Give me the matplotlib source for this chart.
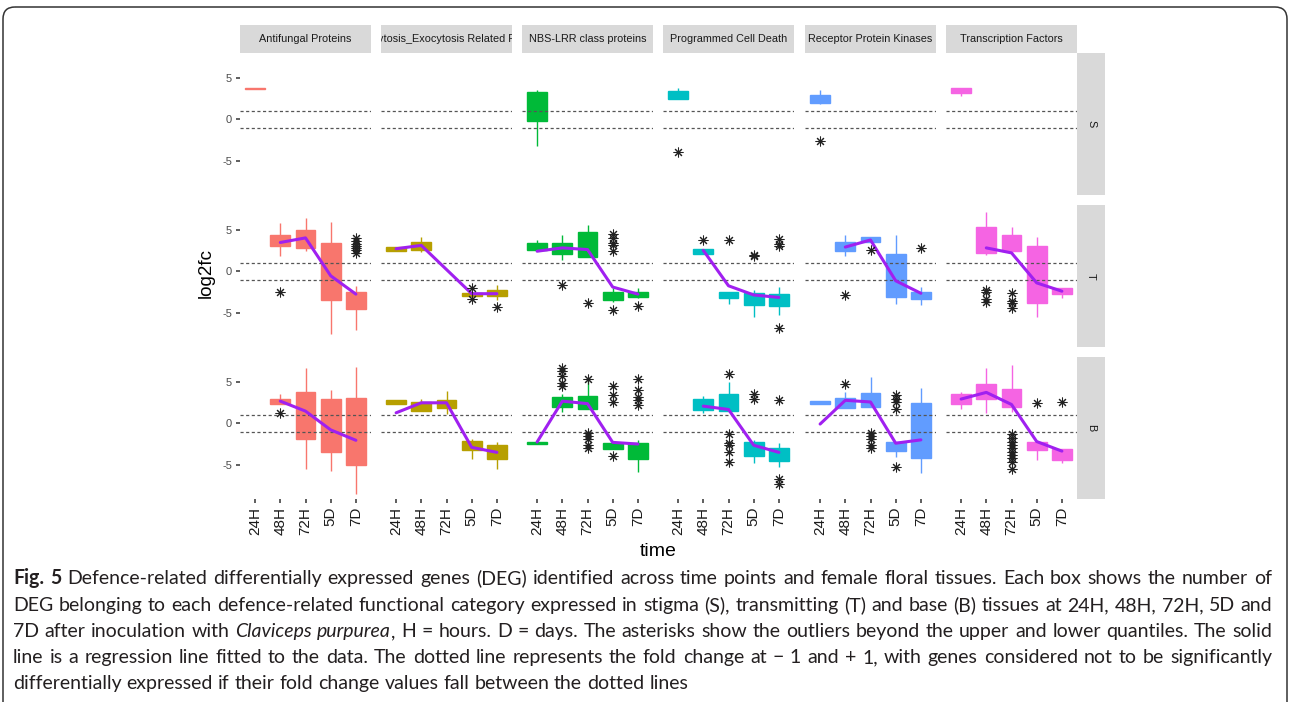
import matplotlib
matplotlib.use("Agg")
import matplotlib.pyplot as plt
from matplotlib.patches import FancyBboxPatch

# ---------------- data ----------------
TIMES = ["24H", "48H", "72H", "5D", "7D"]
CAT_KEYS = ["AFP", "EER", "NBS", "PCD", "RPK", "TF"]
# strip labels as visible in the figure (the second one is cut off by its strip)
CATEGORIES = ["Antifungal Proteins", "ytosis_Exocytosis Related P",
              "NBS-LRR class proteins", "Programmed Cell Death",
              "Receptor Protein Kinases", "Transcription Factors"]
TISSUES = ["S", "T", "B"]
COLORS = ["#F8766D", "#B79F00", "#00BA38", "#00BFC4", "#619CFF", "#F564E3"]

# (category, time, lower whisker, Q1, Q3, upper whisker, outliers)
BOXES_S = [
    ("AFP", "24H", 3.6, 3.6, 3.8, 3.8, []),
    ("NBS", "24H", -3.2, -0.2, 3.3, 3.45, []),
    ("PCD", "24H", 2.4, 2.4, 3.4, 3.7, [-3.96]),
    ("RPK", "24H", 1.85, 2.0, 2.9, 3.45, [-2.56]),
    ("TF", "24H", 2.8, 3.1, 3.7, 3.7, []),
]
BOXES_T = [
    ("AFP", "48H", 1.8, 3.0, 4.3, 5.8, [-2.46]),
    ("AFP", "72H", 2.4, 2.8, 5.0, 6.4, []),
    ("AFP", "5D", -7.5, -3.5, 3.4, 5.9, []),
    ("AFP", "7D", -7.1, -4.55, -2.55, -1.8, [2.2, 2.5, 2.8, 3.0, 3.3, 3.6, 4.0]),
    ("EER", "24H", 2.45, 2.45, 2.85, 2.85, []),
    ("EER", "48H", 2.3, 2.5, 3.5, 4.1, []),
    ("EER", "5D", -2.95, -2.95, -2.65, -2.65, [-2.0, -3.35]),
    ("EER", "7D", -3.5, -3.0, -2.3, -1.7, [-4.3]),
    ("NBS", "24H", 2.5, 2.6, 3.4, 3.8, []),
    ("NBS", "48H", 1.3, 2.05, 3.4, 4.4, [-1.6]),
    ("NBS", "72H", 1.75, 1.75, 4.75, 5.55, [-3.8]),
    ("NBS", "5D", -3.7, -3.45, -2.45, -2.0, [2.4, 3.1, 3.4, 4.0, 4.45, -4.65]),
    ("NBS", "7D", -3.2, -3.15, -2.45, -2.05, [-4.2]),
    ("PCD", "48H", 2.05, 2.05, 2.7, 2.7, [3.8]),
    ("PCD", "72H", -3.95, -3.25, -2.45, -2.45, [3.7]),
    ("PCD", "5D", -5.45, -4.05, -2.65, -2.25, [1.8, 1.95]),
    ("PCD", "7D", -5.25, -4.2, -2.75, -1.85, [3.0, 3.3, 3.9, -6.8]),
    ("RPK", "48H", 1.8, 2.4, 3.5, 4.4, [-2.85]),
    ("RPK", "72H", 3.55, 3.55, 4.15, 4.15, [2.5]),
    ("RPK", "5D", -3.95, -3.15, 2.1, 4.4, []),
    ("RPK", "7D", -4.05, -3.3, -2.5, -1.85, [2.8]),
    ("TF", "48H", 1.9, 2.2, 5.3, 7.15, [-2.25, -2.45, -3.35, -3.65]),
    ("TF", "72H", 2.2, 2.4, 4.4, 5.35, [-2.6, -3.55, -3.85, -4.45]),
    ("TF", "5D", -5.55, -3.85, 3.0, 4.1, []),
    ("TF", "7D", -3.25, -2.7, -2.0, -2.0, []),
]
BOXES_B = [
    ("AFP", "48H", 2.35, 2.35, 2.85, 3.45, [1.25]),
    ("AFP", "72H", -5.55, -1.95, 3.7, 6.65, []),
    ("AFP", "5D", -5.7, -3.5, 2.9, 4.0, []),
    ("AFP", "7D", -8.55, -5.05, 3.0, 6.8, []),
    ("EER", "24H", 2.35, 2.35, 2.75, 2.75, []),
    ("EER", "48H", 1.45, 1.45, 2.6, 2.95, []),
    ("EER", "72H", 1.1, 1.85, 2.75, 3.9, []),
    ("EER", "5D", -4.25, -3.2, -2.1, -1.95, []),
    ("EER", "7D", -5.45, -4.25, -2.65, -2.2, []),
    ("NBS", "24H", -2.5, -2.5, -2.2, -2.2, []),
    ("NBS", "48H", 1.3, 1.95, 3.15, 3.45, [4.5, 4.8, 5.65, 6.25, 6.65]),
    ("NBS", "72H", 1.7, 1.7, 3.25, 5.3, [5.35, -1.15, -1.55, -1.95, -2.6, -3.0]),
    ("NBS", "5D", -3.1, -3.1, -2.4, -2.4, [2.55, 3.35, 4.5, -3.9]),
    ("NBS", "7D", -5.9, -4.25, -2.4, -2.0, [2.15, 2.75, 3.15, 4.0, 5.3]),
    ("PCD", "48H", 1.2, 1.6, 2.85, 3.25, []),
    ("PCD", "72H", 1.45, 1.45, 3.45, 4.95, [5.95, -1.35, -2.4, -2.6, -3.4, -4.65]),
    ("PCD", "5D", -4.75, -3.9, -2.25, -2.0, [2.95, 3.55]),
    ("PCD", "7D", -5.25, -4.55, -3.0, -2.4, [2.75, -6.7, -7.3]),
    ("RPK", "24H", 2.25, 2.25, 2.65, 2.65, []),
    ("RPK", "48H", 1.8, 1.8, 3.05, 3.7, [4.7]),
    ("RPK", "72H", 1.95, 1.95, 3.65, 5.55, [-1.15, -1.55, -1.95, -2.6, -3.0]),
    ("RPK", "5D", -4.05, -3.3, -2.2, -2.2, [1.75, 2.55, 2.95, 3.35, -5.25]),
    ("RPK", "7D", -5.95, -4.15, 2.45, 4.2, []),
    ("TF", "24H", 1.75, 2.35, 3.45, 3.8, []),
    ("TF", "48H", 1.2, 2.95, 4.7, 6.65, []),
    ("TF", "72H", 1.4, 1.95, 4.05, 6.95,
     [-1.35, -1.8, -2.2, -2.6, -3.0, -3.4, -3.8, -4.2, -4.65, -5.45]),
    ("TF", "5D", -4.45, -3.25, -2.2, -2.2, [2.45]),
    ("TF", "7D", -4.75, -4.45, -3.15, -3.15, [2.55]),
]

# fitted line values per time point (None = no data)
LINE_S = {}
LINE_T = {
    "AFP": [None, 3.45, 4.0, -0.55, -2.75],
    "EER": [2.7, 3.1, None, -2.7, -2.7],
    "NBS": [2.4, 2.8, 2.6, -1.9, -2.75],
    "PCD": [None, 2.5, -1.75, -2.85, -3.15],
    "RPK": [None, 2.9, 3.75, -1.15, -2.65],
    "TF": [None, 2.8, 2.2, -1.4, -2.4],
}
LINE_B = {
    "AFP": [None, 2.65, 1.45, -0.8, -2.05],
    "EER": [1.25, 2.45, 2.45, -2.9, -3.5],
    "NBS": [-2.25, 2.65, 2.35, -2.3, -2.5],
    "PCD": [None, 2.05, 1.65, -2.65, -3.5],
    "RPK": [-0.1, 2.75, 2.55, -2.4, -2.0],
    "TF": [2.9, 3.7, 2.25, -2.2, -3.35],
}
BOXES = {"S": BOXES_S, "T": BOXES_T, "B": BOXES_B}
LINES = {"S": LINE_S, "T": LINE_T, "B": LINE_B}

CAPTION = [
    [[("Fig.", "b")], [("5", "b")]] + [[(w, "n")] for w in
        "Defence-related differentially expressed genes (DEG) identified across time points and female floral tissues. Each box shows the number of".split()],
    [[(w, "n")] for w in
        "DEG belonging to each defence-related functional category expressed in stigma (S), transmitting (T) and base (B) tissues at 24H, 48H, 72H, 5D and".split()],
    [[(w, "n")] for w in "7D after inoculation with".split()]
    + [[("Claviceps", "i")], [("purpurea", "i"), (",", "n")]]
    + [[(w, "n")] for w in
        "H = hours. D = days. The asterisks show the outliers beyond the upper and lower quantiles. The solid".split()],
    [[(w, "n")] for w in
        "line is a regression line fitted to the data. The dotted line represents the fold change at \u2212 1 and + 1, with genes considered not to be significantly".split()],
    [[(w, "n")] for w in
        "differentially expressed if their fold change values fall between the dotted lines".split()],
]

# ---------------- layout ----------------
W, H = 1290, 702
fig = plt.figure(figsize=(W / 100, H / 100), dpi=100)
FONT = ["Liberation Sans", "DejaVu Sans"]
CAP_FONT = ["Lato", "DejaVu Sans"]


def add_ax(x0, y0, x1, y1):
    return fig.add_axes([x0 / W, 1 - y1 / H, (x1 - x0) / W, (y1 - y0) / H])


COL_LEFT = [240, 381, 522, 663, 805, 946]
PW = 131
ROW_TOP = [53, 205, 357]
PH = 142
YLIM = (-9.1, 7.95)

bg = fig.add_axes([0, 0, 1, 1], zorder=-5)
bg.set_xlim(0, W)
bg.set_ylim(H, 0)
bg.axis("off")
bg.add_patch(FancyBboxPatch((3, 7), W - 6, 740,
                            boxstyle="round,pad=0,rounding_size=12",
                            fill=False, ec="#333333", lw=1.1, clip_on=False))

for r, tissue in enumerate(TISSUES):
    for c, key in enumerate(CAT_KEYS):
        x0 = COL_LEFT[c]
        y0 = ROW_TOP[r]
        ax = add_ax(x0, y0, x0 + PW, y0 + PH)
        col = COLORS[c]
        ax.set_xlim(0.4, 5.6)
        ax.set_ylim(*YLIM)
        for s in ax.spines.values():
            s.set_visible(False)
        for (k, t, wlo, q1, q3, whi, outs) in BOXES[tissue]:
            if k != key:
                continue
            x = TIMES.index(t) + 1
            ax.vlines(x, wlo, q1, color=col, lw=1.0, zorder=2)
            ax.vlines(x, q3, whi, color=col, lw=1.0, zorder=2)
            ax.bar(x, q3 - q1, bottom=q1, width=0.78, color=col,
                   edgecolor=col, lw=1.0, zorder=3)
            if outs:
                ax.plot([x] * len(outs), outs, ls="none", marker=(8, 2, 0),
                        ms=7, mew=0.75, color="#222222", zorder=6)
        for yv in (1, -1):
            ax.axhline(yv, color="#555555", lw=0.9, ls=(0, (2.5, 2.0)), zorder=4)
        vals = LINES[tissue].get(key)
        if vals:
            xs = [i + 1 for i, v in enumerate(vals) if v is not None]
            ys = [v for v in vals if v is not None]
            ax.plot(xs, ys, color="#A020F0", lw=2.2, zorder=5,
                    solid_capstyle="round", solid_joinstyle="round")
        if c == 0:
            ax.set_yticks([-5, 0, 5])
            ax.set_yticklabels(["-5", "0", "5"], family=FONT)
            ax.tick_params(axis="y", length=3.2, width=1.1, color="#333333",
                           labelsize=8, labelcolor="#4D4D4D", pad=2.5)
        else:
            ax.set_yticks([])
        if r == 2:
            ax.set_xticks(range(1, 6))
            ax.set_xticklabels(TIMES, rotation=90, family=FONT)
            ax.tick_params(axis="x", length=3.2, width=1.1, color="#333333",
                           labelsize=11, labelcolor="#1A1A1A", pad=2.5)
        else:
            ax.set_xticks([])
        ax.patch.set_alpha(0)

# column strips
for c, name in enumerate(CATEGORIES):
    sx = add_ax(COL_LEFT[c], 25, COL_LEFT[c] + PW, 53)
    sx.set_facecolor("#D9D9D9")
    sx.set_xticks([]); sx.set_yticks([])
    for s in sx.spines.values():
        s.set_visible(False)
    sx.text(0.5, 0.5, name, transform=sx.transAxes, ha="center", va="center",
            fontsize=7.8, color="#1A1A1A", family=FONT, clip_on=True)

# row strips
for r, tissue in enumerate(TISSUES):
    sx = add_ax(1077, ROW_TOP[r], 1105, ROW_TOP[r] + PH)
    sx.set_facecolor("#D9D9D9")
    sx.set_xticks([]); sx.set_yticks([])
    for s in sx.spines.values():
        s.set_visible(False)
    sx.text(0.5, 0.5, tissue, transform=sx.transAxes, ha="center", va="center",
            fontsize=7.8, color="#1A1A1A", family=FONT, rotation=-90)

bg.text(206, 273, "log2fc", rotation=90, ha="center", va="center",
        fontsize=13.5, color="#000000", family=FONT)
bg.text(658, 551, "time", ha="center", va="center",
        fontsize=14, color="#000000", family=FONT)

# ---------------- caption (justified) ----------------
renderer = fig.canvas.get_renderer()
X0, X1 = 13, 1272
LINE_BASE = [584, 611, 637, 663, 689]


def piece_props(st):
    return dict(fontweight="bold" if st == "b" else "normal",
                fontstyle="italic" if st == "i" else "normal")


def measure(txt, st, size):
    t = bg.text(0, 0, txt, fontsize=size, family=CAP_FONT, **piece_props(st))
    w = t.get_window_extent(renderer).width
    t.remove()
    return w


size = 12.0
space = measure("a a", "n", size) - 2 * measure("a", "n", size)
maxw = 0
for line in CAPTION[:-1]:
    wsum = sum(measure(p, st, size) for word in line for p, st in word)
    maxw = max(maxw, wsum + space * (len(line) - 1))
size *= (X1 - X0) / maxw * 0.99
space = measure("a a", "n", size) - 2 * measure("a", "n", size)

for li, line in enumerate(CAPTION):
    widths = [[measure(p, st, size) for p, st in word] for word in line]
    total = sum(sum(w) for w in widths)
    if li < len(CAPTION) - 1:
        gap = (X1 - X0 - total) / (len(line) - 1)
    else:
        gap = space
    x = X0
    for word, ws in zip(line, widths):
        for (p, st), w in zip(word, ws):
            bg.text(x, LINE_BASE[li], p, fontsize=size, family=CAP_FONT,
                    ha="left", va="baseline", color="#231F20", **piece_props(st))
            x += w
        x += gap

fig.savefig("out.png", dpi=100)
